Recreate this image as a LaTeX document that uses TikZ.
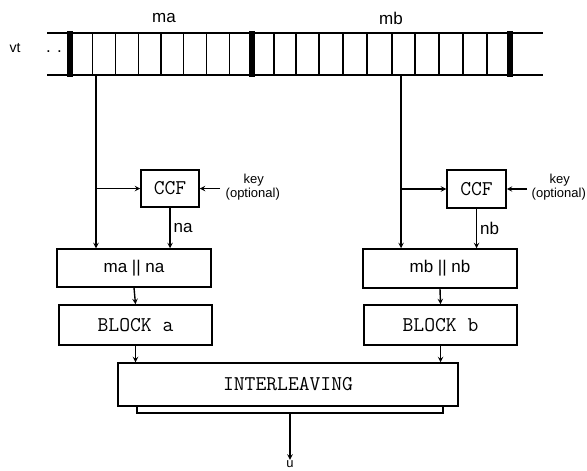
\documentclass[tikz,border=0pt]{standalone}
\usepackage{fontspec}
\setsansfont{Liberation Sans}
\begin{document}
\begin{tikzpicture}[>=stealth, x=1pt, y=-1pt, line width=1.4pt,
    box/.style={draw, line width=1.5pt, inner sep=0pt},
    ttbox/.style={box, font=\ttfamily\fontsize{21}{21}\selectfont},
    sfbox/.style={box, font=\sffamily\fontsize{17}{17}\selectfont},
    lbl/.style={font=\sffamily\fontsize{17}{17}\selectfont, inner sep=0pt},
    small/.style={font=\sffamily\fontsize{13}{13}\selectfont, inner sep=0pt, align=left}]
  % Khung ảnh theo kích thước ảnh gốc
  \useasboundingbox (0,0) rectangle (587,471);

  % 1. Băng dữ liệu
  \draw (47,33) -- (543,33);
  \draw (47,75) -- (543,75);
  % vạch chia các ô
  \foreach \xx in {92.75,115.5,138.25,161,183.75,206.5,229.25}
    \draw (\xx,33) -- (\xx,75);
  \foreach \xx in {274,296,319,343,367,392,415,439,463,487}
    \draw (\xx,33) -- (\xx,75);
  % vạch đậm ranh giới
  \foreach \xx in {70,252,510}
    \draw[line width=5.5pt] (\xx,31) -- (\xx,77);

  % nhãn của băng
  \node[lbl] (ma) at (164,18) {ma};
  \node[lbl] (mb) at (391,18) {mb};
  \node[lbl, font=\sffamily\fontsize{14}{14}\selectfont] (vt) at (15,48) {vt};
  \node[lbl] (dots) at (54,52) {. .};

  % 2. Các khối nhánh a
  \node[ttbox, minimum width=58, minimum height=37] (ccfa) at (170,188.5) {CCF};
  \node[sfbox, minimum width=154, minimum height=38] (cata) at (134,268) {ma || na};
  \node[ttbox, minimum width=153, minimum height=40] (blocka) at (135.5,325) {BLOCK a};

  % 3. Các khối nhánh b
  \node[ttbox, minimum width=59, minimum height=38] (ccfb) at (476.5,189) {CCF};
  \node[sfbox, minimum width=154, minimum height=39] (catb) at (440,268.5) {mb || nb};
  \node[ttbox, minimum width=153, minimum height=40] (blockb) at (440.5,325) {BLOCK b};

  % 4. Khối trộn
  \node[ttbox, minimum width=340, minimum height=43] (inter) at (288,384.5) {INTERLEAVING};
  \node[box, minimum width=306, minimum height=7] (base) at (290,409.5) {};
  \node[lbl, font=\sffamily\fontsize{13}{13}\selectfont] (u) at (290,464) {u};

  % 5. Mũi tên nhánh a
  \coordinate (tapa) at (96,75);
  \coordinate (keya) at (220,188.5);
  \draw[->] (tapa) -- (tapa |- cata.north);
  \draw[->] (tapa |- ccfa.west) -- (ccfa.west);
  \draw[->] (keya) -- (ccfa.east);
  \node[small, anchor=west] (keyla) at (243,180) {key};
  \node[small, anchor=west] (optla) at (225,194) {(optional)};
  \draw[->] (ccfa.south) -- (ccfa.south |- cata.north)
    node[lbl, midway, right=3pt] (na) {na};
  \draw[->] (cata.south) -- (blocka.north);
  \draw[->] (blocka.south) -- (blocka.south |- inter.north);

  % 6. Mũi tên nhánh b
  \coordinate (tapb) at (401,75);
  \coordinate (keyb) at (527,189);
  \draw[->] (tapb) -- (tapb |- catb.north);
  \draw[->] (tapb |- ccfb.west) -- (ccfb.west);
  \draw[->] (keyb) -- (ccfb.east);
  \node[small, anchor=west] (keylb) at (549,180) {key};
  \node[small, anchor=west] (optlb) at (531,194) {(optional)};
  \draw[->] (ccfb.south) -- (ccfb.south |- catb.north)
    node[lbl, midway, right=3pt] (nb) {nb};
  \draw[->] (catb.south) -- (blockb.north);
  \draw[->] (blockb.south) -- (blockb.south |- inter.north);

  % 7. Đầu ra
  \draw[->] (base.south) -- (u.north);
\end{tikzpicture}
\end{document}
